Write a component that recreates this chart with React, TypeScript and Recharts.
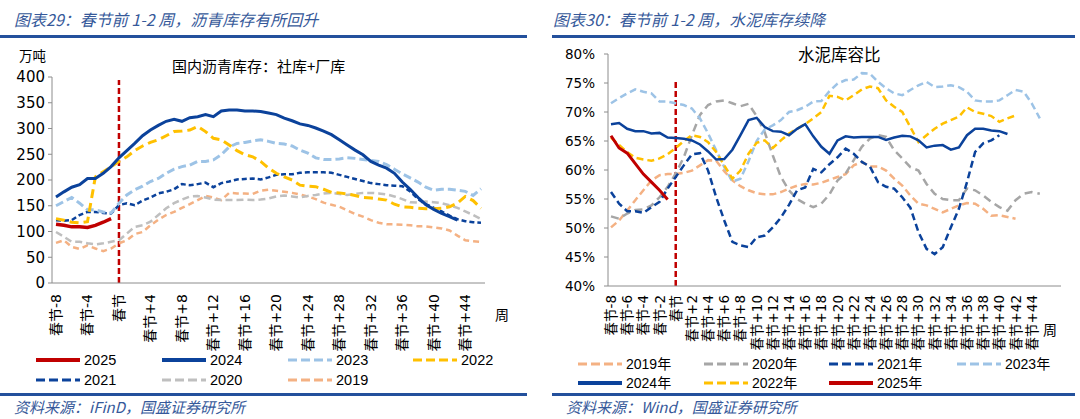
import React from 'react';
import { LineChart, Line, XAxis, YAxis, ReferenceLine } from 'recharts';

// week index relative to Spring Festival
const LEFT_WEEKS = Array.from({ length: 55 }, (_, i) => i - 8); // -8 .. 46
const RIGHT_WEEKS = Array.from({ length: 56 }, (_, i) => i - 8); // -8 .. 47
const LEFT_Y_TICKS = [0, 50, 100, 150, 200, 250, 300, 350, 400];
const RIGHT_Y_TICKS = [40, 45, 50, 55, 60, 65, 70, 75, 80];

// asphalt inventory, 万吨
const asphalt2025 = [114, 112, 109, 109, 108, 112, 118, 125];
const asphalt2024 = [
  167, 177, 186, 191, 203, 203, 213, 226,
  243, 257, 271, 286, 297, 306, 314, 318, 314, 321,
  323, 327, 323, 334, 336, 336, 334, 334, 333, 330,
  327, 320, 315, 309, 306, 301, 295, 288, 278, 268,
  258, 249, 236, 229, 223, 213, 196, 182, 166, 152,
  143, 135, 129, 122,
];
const asphalt2023 = [
  150, 158, 166, 155, 142, 142, 138, 136,
  155, 171, 181, 188, 197, 203, 213, 221, 226, 229,
  236, 236, 239, 249, 264, 271, 273, 276, 278, 275,
  271, 270, 266, 258, 252, 243, 240, 240, 241, 243,
  242, 240, 238, 236, 230, 221, 212, 204, 196, 186,
  180, 182, 182, 180, 178, 170, 183,
];
const asphalt2022 = [
  125, 122, 118, 117, 119, 206, 216, 226,
  236, 245, 257, 266, 273, 278, 286, 294, 295, 297,
  304, 294, 281, 278, 268, 257, 249, 245, 236, 223,
  213, 206, 200, 190, 188, 187, 182, 176, 175, 173,
  170, 166, 165, 163, 161, 153, 148, 147, 145, 144,
  144, 145, 148, 155, 168, 160, 145,
];
const asphalt2021 = [
  122, 121, 122, 132, 138, 138, 136, 135,
  151, 155, 151, 160, 166, 174, 177, 182, 192, 190,
  192, 195, 186, 194, 197, 201, 202, 203, 201, 205,
  210, 211, 211, 214, 215, 215, 215, 214, 210, 206,
  202, 198, 194, 192, 190, 189, 188, 178, 163, 153,
  146, 139, 131, 124, 120, 118, 117,
];
const asphalt2020 = [
  99, 90, 80, 80, 77, 75, 77, 80,
  83, 96, 109, 112, 119, 132, 145, 155, 162, 168,
  169, 166, 162, 161, 161, 161, 162, 161, 162, 164,
  168, 170, 168, 166, 169, 171, 174, 175, 173, 171,
  173, 175, 175, 174, 172, 168, 163, 157, 156, 158,
  157, 155, 151, 146, 139, 132, 124,
];
const asphalt2019 = [
  78, 83, 70, 66, 73, 67, 62, 67,
  77, 83, 95, 99, 112, 123, 132, 138, 146, 153,
  161, 169, 166, 161, 175, 174, 174, 173, 179, 181,
  179, 177, 175, 172, 168, 163, 156, 152, 148, 141,
  134, 129, 122, 117, 114, 114, 113, 112, 110, 110,
  108, 106, 102, 92, 83, 81, 80,
];

// cement storage ratio, %
const cement2025 = [65.9, 63.8, 62.9, 61.1, 59.3, 57.9, 56.5, 54.9];
const cement2024 = [
  67.9, 68.1, 67.1, 66.7, 66.7, 66.3, 66.4, 65.6,
  65.5, 65.4, 65.1, 64.4, 63.2, 61.8, 61.9, 63.5, 66.0, 68.6,
  69.0, 67.4, 66.7, 66.6, 66.0, 67.1, 67.9, 65.8, 64.0, 62.8,
  65.1, 65.8, 65.6, 65.7, 65.7, 65.7, 65.2, 65.6, 65.9, 65.8,
  65.1, 63.9, 64.2, 64.3, 63.5, 63.9, 66.0, 67.1, 67.1, 66.8,
  66.7, 66.2,
];
const cement2023 = [
  71.5, 72.4, 73.2, 73.9, 73.5, 73.2, 71.8, 71.8,
  71.5, 71.2, 70.6, 68.9, 66.3, 63.4, 60.5, 58.0, 58.5, 61.5,
  65.0, 67.0, 67.7, 68.6, 70.0, 70.3, 70.9, 71.8, 71.9, 73.6,
  74.9, 75.5, 75.6, 76.7, 76.6, 75.2, 74.1, 73.2, 72.9, 73.8,
  74.6, 75.2, 74.3, 74.4, 74.6, 74.3, 73.5, 72.0, 71.8, 71.8,
  72.0, 72.9, 73.8, 73.5, 71.5, 68.9,
];
const cement2022 = [
  65.6, 64.3, 63.1, 62.1, 61.8, 61.6, 62.0, 62.7,
  63.8, 65.0, 66.0, 65.7, 64.8, 63.1, 60.8, 58.5, 59.9, 62.8,
  64.7, 65.1, 63.8, 65.1, 66.3, 67.1, 67.9, 68.9, 70.0, 72.8,
  72.6, 72.0, 72.9, 73.9, 74.4, 74.1, 72.0, 70.9, 70.0, 67.4,
  64.8, 66.0, 67.1, 68.0, 68.6, 69.2, 70.8, 70.0, 69.7, 69.3,
  68.3, 68.9, 69.4,
];
const cement2021 = [
  56.2, 54.2, 52.9, 52.9, 52.6, 53.6, 54.5, 56.8,
  58.8, 60.8, 62.7, 62.9, 59.9, 55.3, 51.3, 47.6, 47.0, 46.7,
  48.4, 48.7, 50.1, 51.8, 54.0, 56.5, 57.0, 60.2, 59.6, 61.0,
  62.2, 63.7, 62.8, 61.4, 60.6, 57.9, 57.1, 56.8, 55.3, 53.5,
  49.3, 46.4, 45.5, 46.7, 50.1, 53.3, 57.9, 63.1, 64.6, 65.1,
  66.0,
];
const cement2020 = [
  52.0, 51.6, 52.5, 53.1, 53.2, 53.9, 55.3, 57.1,
  59.4, 62.2, 66.0, 69.5, 71.2, 71.8, 72.0, 71.5, 71.0, 71.4,
  69.3, 66.5, 62.5, 58.8, 56.5, 55.0, 54.2, 53.6, 54.2, 55.8,
  58.2, 59.4, 61.7, 64.0, 65.4, 66.0, 65.7, 63.4, 62.0, 60.5,
  59.9, 57.6, 55.9, 55.0, 54.8, 54.8, 56.8, 56.5, 55.6, 54.5,
  53.6, 53.0, 54.8, 55.9, 56.2, 55.9,
];
const cement2019 = [
  50.1, 51.3, 53.0, 54.8, 56.5, 58.2, 59.1, 59.3,
  59.3, 59.5, 59.9, 60.8, 61.7, 61.6, 59.8, 58.2, 57.2, 56.5,
  56.0, 55.8, 55.8, 56.2, 56.8, 57.3, 57.6, 57.5, 57.8, 58.3,
  58.8, 59.3, 60.8, 61.4, 60.6, 60.6, 59.9, 58.5, 57.3, 55.6,
  54.2, 53.9, 53.3, 52.7, 53.3, 53.9, 54.3, 54.2, 53.3, 52.1,
  52.2, 51.9, 51.6,
];

const RED = '#C00000';
const DARK = '#0B429B';
const LIGHT = '#9DC3E6';
const YELLOW = '#FFC000';
const SALMON = '#F4B183';
const HEAD = '#23509C';
const HEAD_TEXT = '#36599A';
const CJK = "'Noto Sans CJK SC', sans-serif";
const NUM = "'DejaVu Sans', 'Noto Sans CJK SC', sans-serif";
const LEG = "'Liberation Sans', 'Noto Sans CJK SC', sans-serif";

type SeriesStyle = { key: string; name: string; color: string; width: number; dash?: string };

const leftSeries: SeriesStyle[] = [
  { key: 's2019', name: '2019', color: SALMON, width: 2.5, dash: '6 4' },
  { key: 's2020', name: '2020', color: '#BFBFBF', width: 2.5, dash: '7 4' },
  { key: 's2021', name: '2021', color: DARK, width: 2.5, dash: '5 3' },
  { key: 's2023', name: '2023', color: LIGHT, width: 3, dash: '8 4' },
  { key: 's2022', name: '2022', color: YELLOW, width: 3, dash: '9 5' },
  { key: 's2024', name: '2024', color: DARK, width: 3 },
  { key: 's2025', name: '2025', color: RED, width: 3.5 },
];

const rightSeries: SeriesStyle[] = [
  { key: 's2019', name: '2019年', color: SALMON, width: 2.5, dash: '7 4' },
  { key: 's2020', name: '2020年', color: '#A6A6A6', width: 2.5, dash: '8 5' },
  { key: 's2021', name: '2021年', color: DARK, width: 2.5, dash: '7 4' },
  { key: 's2023', name: '2023年', color: LIGHT, width: 2.5, dash: '7 4' },
  { key: 's2022', name: '2022年', color: YELLOW, width: 2.5, dash: '7 4' },
  { key: 's2024', name: '2024年', color: DARK, width: 2.5 },
  { key: 's2025', name: '2025年', color: RED, width: 3 },
];

const leftData = LEFT_WEEKS.map((w, i) => ({
  w,
  s2019: asphalt2019[i] ?? null,
  s2020: asphalt2020[i] ?? null,
  s2021: asphalt2021[i] ?? null,
  s2022: asphalt2022[i] ?? null,
  s2023: asphalt2023[i] ?? null,
  s2024: asphalt2024[i] ?? null,
  s2025: asphalt2025[i] ?? null,
}));

const rightData = RIGHT_WEEKS.map((w, i) => ({
  w,
  s2019: cement2019[i] ?? null,
  s2020: cement2020[i] ?? null,
  s2021: cement2021[i] ?? null,
  s2022: cement2022[i] ?? null,
  s2023: cement2023[i] ?? null,
  s2024: cement2024[i] ?? null,
  s2025: cement2025[i] ?? null,
}));

const weekLabel = (w: number) => (w === 0 ? '春节' : w < 0 ? `春节${w}` : `春节+${w}`);

const makeTick = (step: number, fontSize: number) => (props: any) => {
  const { x, y, payload } = props;
  const w = Number(payload.value);
  if (w % step !== 0 || w > 44) return <g />;
  return (
    <text
      x={x}
      y={y}
      transform={`rotate(-90, ${x}, ${y})`}
      textAnchor="end"
      dominantBaseline="central"
      fontSize={fontSize}
      fontFamily={NUM}
      fill="#000"
    >
      {weekLabel(w)}
    </text>
  );
};

const LeftTick = makeTick(4, 14);
const RightTick = makeTick(2, 13.5);

type LegendEntry = { s: SeriesStyle; x: number; y: number };

const legendLeft: LegendEntry[] = [
  { s: leftSeries[6], x: 36, y: 360 },
  { s: leftSeries[5], x: 162, y: 360 },
  { s: leftSeries[3], x: 288, y: 360 },
  { s: leftSeries[4], x: 413, y: 360 },
  { s: leftSeries[2], x: 36, y: 380 },
  { s: leftSeries[1], x: 162, y: 380 },
  { s: leftSeries[0], x: 288, y: 380 },
];

const legendRight: LegendEntry[] = [
  { s: rightSeries[0], x: 578, y: 364 },
  { s: rightSeries[1], x: 704, y: 364 },
  { s: rightSeries[2], x: 829, y: 364 },
  { s: rightSeries[3], x: 957, y: 364 },
  { s: rightSeries[5], x: 578, y: 383 },
  { s: rightSeries[4], x: 704, y: 383 },
  { s: rightSeries[6], x: 829, y: 383 },
];

const Legend = ({ items, fontSize }: { items: LegendEntry[]; fontSize: number }) => (
  <>
    {items.map(({ s, x, y }) => (
      <React.Fragment key={s.name}>
        <svg
          width={44}
          height={8}
          style={{ position: 'absolute', left: x, top: y - 4, overflow: 'visible' }}
        >
          <line
            x1={0}
            y1={4}
            x2={44}
            y2={4}
            stroke={s.color}
            strokeWidth={s.dash ? 3 : 4}
            strokeDasharray={s.dash ? '9 4' : undefined}
          />
        </svg>
        <div
          style={{
            position: 'absolute',
            left: x + 48,
            top: y,
            transform: 'translateY(-50%)',
            fontSize,
            fontFamily: LEG,
            color: '#000',
            lineHeight: 1,
            whiteSpace: 'nowrap',
          }}
        >
          {s.name}
        </div>
      </React.Fragment>
    ))}
  </>
);

const abs = (left: number, top: number, extra: React.CSSProperties = {}): React.CSSProperties => ({
  position: 'absolute',
  left,
  top,
  whiteSpace: 'nowrap',
  lineHeight: 1,
  ...extra,
});

export default function App() {
  return (
    <div
      style={{
        position: 'absolute',
        left: 0,
        top: 0,
        width: 1080,
        height: 419,
        background: '#fff',
        overflow: 'hidden',
      }}
    >
      {/* left panel: asphalt */}
      <div style={{ position: 'absolute', left: 0, top: 0 }}>
        <LineChart
          width={540}
          height={419}
          data={leftData}
          margin={{ top: 77, right: 55, bottom: 76, left: 0 }}
        >
          <XAxis
            dataKey="w"
            type="category"
            interval={0}
            tick={LeftTick}
            tickLine={false}
            tickSize={0}
            tickMargin={11}
            height={60}
            axisLine={{ stroke: '#8C8C8C' }}
            padding={{ left: 4, right: 4 }}
          />
          <YAxis
            domain={[0, 400]}
            ticks={LEFT_Y_TICKS}
            interval={0}
            width={52}
            tickSize={4}
            tickMargin={3}
            axisLine={{ stroke: '#8C8C8C' }}
            tickLine={{ stroke: '#8C8C8C' }}
            tick={{ fill: '#000', fontSize: 15, fontFamily: NUM }}
          />
          <ReferenceLine
            segment={[{ x: 0, y: 0 }, { x: 0, y: 394 }]}
            stroke={RED}
            strokeWidth={2.5}
            strokeDasharray="6 3"
          />
          {leftSeries.map((s) => (
            <Line
              key={s.key}
              dataKey={s.key}
              name={s.name}
              stroke={s.color}
              strokeWidth={s.width}
              strokeDasharray={s.dash}
              dot={false}
              activeDot={false}
              isAnimationActive={false}
              type="linear"
            />
          ))}
        </LineChart>
      </div>

      {/* right panel: cement */}
      <div style={{ position: 'absolute', left: 540, top: 0 }}>
        <LineChart
          width={540}
          height={419}
          data={rightData}
          margin={{ top: 54, right: 19, bottom: 73, left: 0 }}
        >
          <XAxis
            dataKey="w"
            type="category"
            interval={0}
            tick={RightTick}
            tickLine={false}
            tickSize={0}
            tickMargin={9}
            height={60}
            axisLine={{ stroke: '#8C8C8C' }}
            padding={{ left: 3, right: 5 }}
          />
          <YAxis
            domain={[40, 80]}
            ticks={RIGHT_Y_TICKS}
            interval={0}
            width={68}
            tickSize={4}
            tickMargin={9}
            axisLine={{ stroke: '#8C8C8C' }}
            tickLine={{ stroke: '#8C8C8C' }}
            tickFormatter={(v: number) => `${v}%`}
            tick={{ fill: '#000', fontSize: 13.5, fontFamily: NUM }}
          />
          <ReferenceLine
            segment={[{ x: 0, y: 40 }, { x: 0, y: 75.7 }]}
            stroke={RED}
            strokeWidth={2.5}
            strokeDasharray="6 3"
          />
          {rightSeries.map((s) => (
            <Line
              key={s.key}
              dataKey={s.key}
              name={s.name}
              stroke={s.color}
              strokeWidth={s.width}
              strokeDasharray={s.dash}
              dot={false}
              activeDot={false}
              isAnimationActive={false}
              type="linear"
            />
          ))}
        </LineChart>
      </div>

      {/* headers */}
      <div style={abs(14, 11, { fontSize: 16, fontStyle: 'italic', color: HEAD_TEXT, fontFamily: CJK })}>
        图表29：春节前 1-2 周，沥青库存有所回升
      </div>
      <div style={abs(553, 11, { fontSize: 16, fontStyle: 'italic', color: HEAD_TEXT, fontFamily: CJK })}>
        图表30：春节前 1-2 周，水泥库存续降
      </div>
      <div style={{ position: 'absolute', left: 0, top: 35, width: 527, height: 2.5, background: HEAD }} />
      <div style={{ position: 'absolute', left: 552, top: 35, width: 523, height: 2.5, background: HEAD }} />

      {/* inner titles and units */}
      <div style={abs(19, 49, { fontSize: 13.5, fontFamily: CJK, color: '#000' })}>万吨</div>
      <div style={abs(172, 58, { fontSize: 15, fontFamily: CJK, color: '#000' })}>
        国内沥青库存：社库+厂库
      </div>
      <div style={abs(798, 46, { fontSize: 16.5, fontFamily: CJK, color: '#000' })}>水泥库容比</div>
      <div style={abs(495, 307, { fontSize: 14, fontFamily: CJK, color: '#000' })}>周</div>
      <div style={abs(1043, 322, { fontSize: 14, fontFamily: CJK, color: '#000' })}>周</div>

      {/* legends */}
      <Legend items={legendLeft} fontSize={14.5} />
      <Legend items={legendRight} fontSize={14} />

      {/* footers */}
      <div style={{ position: 'absolute', left: 0, top: 393, width: 527, height: 2.5, background: HEAD }} />
      <div style={{ position: 'absolute', left: 552, top: 393, width: 523, height: 2.5, background: HEAD }} />
      <div style={abs(14, 399, { fontSize: 15, fontStyle: 'italic', color: HEAD_TEXT, fontFamily: CJK })}>
        资料来源：iFinD，国盛证券研究所
      </div>
      <div style={abs(566, 399, { fontSize: 15, fontStyle: 'italic', color: HEAD_TEXT, fontFamily: CJK })}>
        资料来源：Wind，国盛证券研究所
      </div>
    </div>
  );
}
